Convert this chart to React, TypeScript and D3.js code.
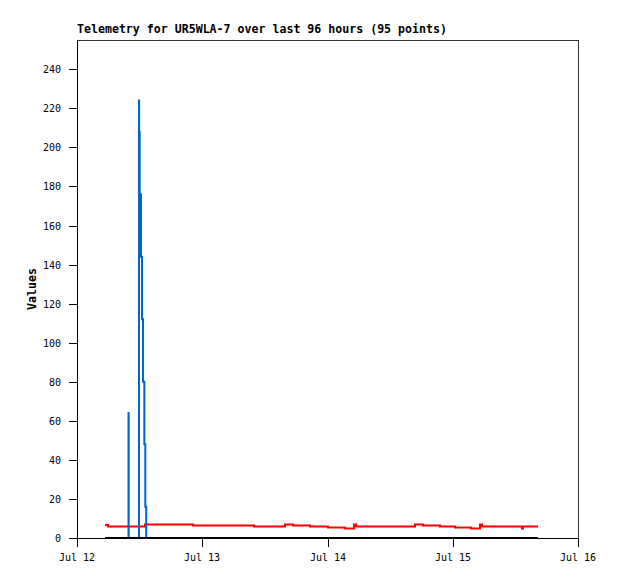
import React from "react";
import * as d3 from "d3";

// ---- Data (hours since Jul 12 00:00) ----
const chartTitle = "Telemetry for UR5WLA-7 over last 96 hours (95 points)";
const yAxisTitle = "Values";
const xTickLabels = ["Jul 12", "Jul 13", "Jul 14", "Jul 15", "Jul 16"];
const xTickDays = [0, 1, 2, 3, 4];
const yTickValues = [0, 20, 40, 60, 80, 100, 120, 140, 160, 180, 200, 220, 240];
const yMax = 255;

const redHours = [5.37, 5.94, 13.03, 22.23, 33.92, 39.86, 41.39, 44.65, 48.09, 51.35, 53.07, 53.46, 64.77, 66.3, 69.56, 72.43, 75.5, 77.22, 77.6, 85.27, 85.46, 88.33];
const redValues = [6.7, 5.9, 6.9, 6.4, 5.9, 6.9, 6.4, 5.9, 5.4, 4.9, 6.9, 5.9, 6.9, 6.4, 5.9, 5.4, 4.9, 6.9, 5.9, 4.9, 5.9, 5.9];

const blueHours = [5.37, 9.87, 9.9, 11.88, 11.9, 12.01, 12.26, 12.46, 12.65, 12.9, 13.09, 13.26, 88.33];
const blueValues = [0, 64, 0, 224, 208, 176, 144, 112, 80, 48, 16, 0, 0];

const blackHours = [5.37, 88.33];
const blackValues = [0, 0];

const startMs = new Date(2024, 6, 12, 0, 0, 0).getTime();
const toDate = (h: number) => new Date(startMs + h * 3600000);

export default function App() {
  const W = 618, H = 579;
  const left = 77, right = 578, top = 40, bottom = 538;
  const x = d3.scaleTime().domain([toDate(0), toDate(96)]).range([left, right]);
  const y = d3.scaleLinear().domain([0, yMax]).range([bottom, top]);

  const line = d3
    .line<[number, number]>()
    .x((d) => x(toDate(d[0])))
    .y((d) => y(d[1]))
    .curve(d3.curveStepAfter);

  const mk = (hs: number[], vs: number[]) => line(hs.map((h, i) => [h, vs[i]] as [number, number])) || "";

  const mono = "'DejaVu Sans Mono', 'Liberation Mono', monospace";

  return (
    <svg width={W} height={H} style={{ position: "absolute", left: 0, top: 0, background: "#fff" }}>
      <rect x={0} y={0} width={W} height={H} fill="#fff" />
      <text x={left} y={33} fontFamily={mono} fontWeight="bold" fontSize={11.6} fill="#000">
        {chartTitle}
      </text>
      {/* frame */}
      <g shapeRendering="crispEdges">
        <line x1={left} x2={right} y1={top + 0.5} y2={top + 0.5} stroke="#333" />
        <line x1={right + 0.5} x2={right + 0.5} y1={top} y2={bottom} stroke="#333" />
        <line x1={left + 0.5} x2={left + 0.5} y1={top} y2={bottom + 1} stroke="#000" />
        <line x1={left} x2={right + 1} y1={bottom + 0.5} y2={bottom + 0.5} stroke="#000" />
      </g>
      {/* y ticks */}
      <g>
        {yTickValues.map((v) => (
          <g key={v}>
            <line x1={left - 8} x2={left} y1={Math.round(y(v)) + 0.5} y2={Math.round(y(v)) + 0.5} stroke="#000" shapeRendering="crispEdges" />
            <text x={61} y={Math.round(y(v)) + 0.5} dy="0.35em" textAnchor="end" fontFamily={mono} fontSize={10} fill="#000">
              {v}
            </text>
          </g>
        ))}
      </g>
      {/* x ticks */}
      <g>
        {xTickDays.map((d, i) => {
          const px = Math.round(x(toDate(d * 24)));
          return (
            <g key={d}>
              <line x1={px + 0.5} x2={px + 0.5} y1={bottom} y2={bottom + 9} stroke="#000" shapeRendering="crispEdges" />
              <text x={px} y={561} textAnchor="middle" fontFamily={mono} fontSize={10} fill="#000">
                {xTickLabels[i]}
              </text>
            </g>
          );
        })}
      </g>
      <text
        transform={`translate(36, ${(top + bottom) / 2}) rotate(-90)`}
        textAnchor="middle"
        fontFamily={mono}
        fontWeight="bold"
        fontSize={11.6}
        fill="#000"
      >
        {yAxisTitle}
      </text>
      {/* series */}
      <path d={mk(redHours, redValues)} fill="none" stroke="#ff0000" strokeWidth={2} />
      <path d={mk(blueHours, blueValues)} fill="none" stroke="#0066cc" strokeWidth={2} />
      <path d={mk(blackHours, blackValues)} fill="none" stroke="#000" strokeWidth={2} />
    </svg>
  );
}
